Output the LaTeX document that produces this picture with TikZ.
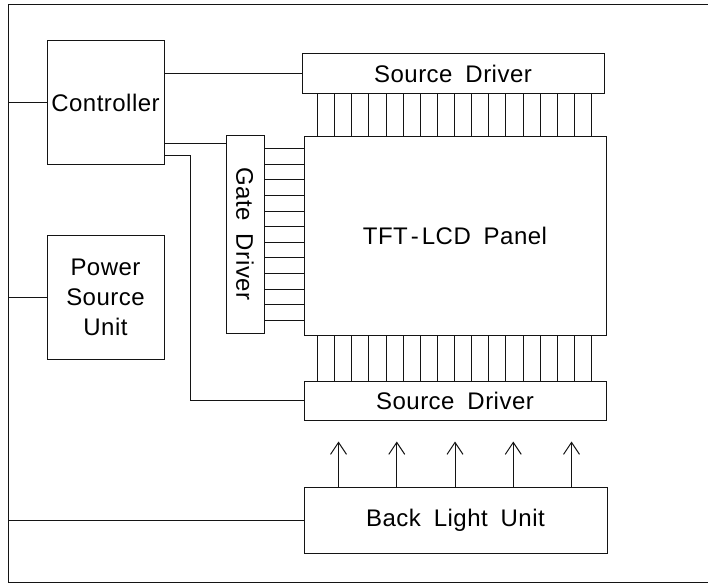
\documentclass[tikz,border=0pt]{standalone}
\usepackage{fontspec}
\setmainfont{Liberation Sans}
\newfontfamily\plotfont[LetterSpace=2, WordSpace=1.8]{Liberation Sans}
\usetikzlibrary{arrows.meta, positioning, calc}
\definecolor{ink}{RGB}{20, 20, 20}
\tikzset{
    box/.style={rectangle, draw=ink, line width=1pt, align=center, font=\plotfont\fontsize{24}{30}\selectfont, inner sep=0pt},
    wire/.style={draw=ink, line width=1pt},
    ray/.style={-{Straight Barb[length=12pt, width=16pt]}, line width=1pt, ink}
}

\begin{document}
\begin{tikzpicture}[x=1pt, y=-1pt]
        \useasboundingbox (0,0) rectangle (708,583);
        % outer frame, open on the right
        \coordinate (fTop) at (708,5);
        \coordinate (fL) at (8,5);
        \coordinate (fBot) at (708,582);
        \draw[wire] (fTop) -- (fL) -- (fL |- fBot) -- (fBot);

        \node[box, minimum width=117pt, minimum height=123pt] (ctrl) at (105.5,102.5) {Controller};
        \node[box, minimum width=117pt, minimum height=124pt] (psu) at (105.5,297) {Power\\Source\\Unit};
        \node[box, minimum width=302pt, minimum height=40pt] (srcA) at (453,74) {Source Driver};
        \node[box, minimum width=302pt, minimum height=199pt] (panel) at (455,235.5) {TFT\kern3pt-\kern3pt LCD Panel};
        \node[box, minimum width=38pt, minimum height=198pt] (gate) at (245,234) {\rotatebox{-90}{Gate Driver}};
        \node[box, minimum width=302pt, minimum height=39pt] (srcB) at (455,400.5) {Source Driver};
        \node[box, minimum width=303pt, minimum height=66pt] (blu) at (455.5,520) {Back Light Unit};

        \draw[wire] (fL |- ctrl.west) -- (ctrl.west);
        \draw[wire] (fL |- psu.west) -- (psu.west);
        \draw[wire] (fL |- blu.west) -- (blu.west);
        \draw[wire] (ctrl.east |- srcA.west) -- (srcA.west);
        \draw[wire] ([yshift=-9pt]gate.north west -| ctrl.east) -- ([yshift=-9pt]gate.north west);
        \draw[wire] ([yshift=9pt]ctrl.south east) -- ++(26,0) |- (srcB.west);

        % data lines to the panel
        \foreach \k in {0,...,16}{
            \coordinate (t) at ([xshift={14pt+\k*17.125pt}]panel.north west);
            \coordinate (s) at ([xshift={14pt+\k*17.125pt}]panel.south west);
            \draw[wire] (t) -- (t |- srcA.south);
            \draw[wire] (s) -- (s |- srcB.north);
        }
        \foreach \k in {0,...,11}{
            \coordinate (g) at ([yshift={-13pt-\k*15.64pt}]panel.north west);
            \draw[wire] (g -| gate.east) -- (g);
        }
        % light from the back light unit
        \foreach \k in {0,...,4}{
            \coordinate (b) at ([xshift={35pt+\k*58.25pt}]blu.north west);
            \draw[ray] (b) -- ++(0,-45);
        }
    \end{tikzpicture}
\end{document}
